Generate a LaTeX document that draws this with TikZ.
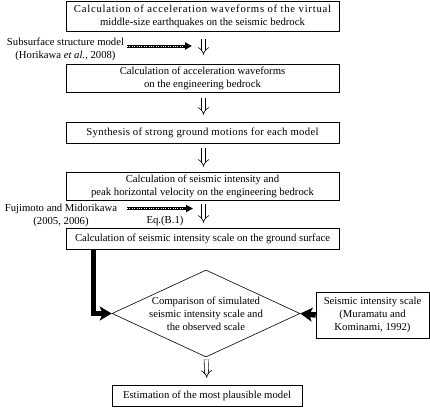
\documentclass[tikz,border=0pt]{standalone}
\usepackage{fontspec}
\setmainfont{Liberation Serif}
\usetikzlibrary{arrows.meta,shapes.geometric,calc}
\begin{document}
\begin{tikzpicture}[x=1pt,y=-1pt,
  txt/.style={font=\fontsize{10.7}{13}\selectfont,inner sep=0pt,align=center},
  box/.style={txt,draw,line width=0.6pt},
  dbl/.style={double,double distance=3.4pt,line width=0.6pt,-{Implies}},
  hatch/.style={line width=3pt,-{Triangle[length=7pt,width=7pt]},
    postaction={draw=white,line width=1pt,dash pattern=on 1pt off 1.4pt,shorten >=9pt,-}},
  heavy/.style={line width=5.5pt,-{Stealth[length=12pt,width=14pt,inset=3pt]}}]
\useasboundingbox (0,0) rectangle (430,407);

\node[box,minimum width=273pt,minimum height=30pt] (b1) at (202.5,16)
  {\addfontfeatures{LetterSpace=7}Calculation of acceleration waveforms of the virtual\\middle-size earthquakes on the seismic bedrock};
\node[box,minimum width=273pt,minimum height=28pt] (b2) at (202.5,78)
  {Calculation of acceleration waveforms\\on the engineering bedrock};
\node[box,minimum width=273pt,minimum height=21pt] (b3) at (202.5,132.5)
  {\addfontfeatures{LetterSpace=3}Synthesis of strong ground motions for each model};
\node[box,minimum width=273pt,minimum height=28pt] (b4) at (202.5,186)
  {Calculation of seismic intensity and\\peak horizontal velocity on the engineering bedrock};
\node[box,minimum width=273pt,minimum height=21pt] (b5) at (202.5,238.5)
  {Calculation of seismic intensity scale on the ground surface};
\node[draw,line width=0.6pt,shape=diamond,inner sep=0pt,minimum width=188pt,minimum height=87pt] (dia) at (206,313.5) {};
\node[txt] (diat) at (dia.center) {Comparison of simulated\\seismic intensity scale and\\the observed scale};
\node[box,minimum width=113pt,minimum height=46pt] (rb) at (372.5,315)
  {Seismic intensity scale\\(Muramatu and\\Kominami, 1992)};
\node[box,minimum width=190pt,minimum height=21pt] (b6) at (207,395.5)
  {Estimation of the most plausible model};

\node[txt] (sub) at (65.5,49) {Subsurface structure model\\(Horikawa \textit{et al.}, 2008)};
\node[txt] (fuj) at (61,215) {Fujimoto and Midorikawa\\(2005, 2006)};
\node[txt] (eq) at (165,221) {Eq.(B.1)};

\coordinate (h1s) at (127,46);
\coordinate (h1e) at (192,46);
\coordinate (h2s) at (127,208.5);
\coordinate (h2e) at (193,208.5);
\draw[hatch] (h1s) -- (h1e);
\draw[hatch] (h2s) -- (h2e);

\draw[dbl,shorten <=8pt,shorten >=9pt] ([xshift=1pt]b1.south) -- ([xshift=1pt]b2.north);
\draw[dbl,shorten <=6pt,shorten >=7pt] ([xshift=1pt]b2.south) -- ([xshift=1pt]b3.north);
\draw[dbl,shorten <=5pt,shorten >=5pt] ([xshift=1pt]b3.south) -- ([xshift=1pt]b4.north);
\draw[dbl,shorten <=4pt,shorten >=5pt] ([xshift=1pt]b4.south) -- ([xshift=1pt]b5.north);
\draw[dbl,shorten <=2pt,shorten >=7pt] (dia.south) -- (b6.north);

\draw[heavy] ([xshift=28pt]b5.south west) |- (dia.west);
\draw[heavy] (rb.west) -- (dia.east);
\end{tikzpicture}
\end{document}
